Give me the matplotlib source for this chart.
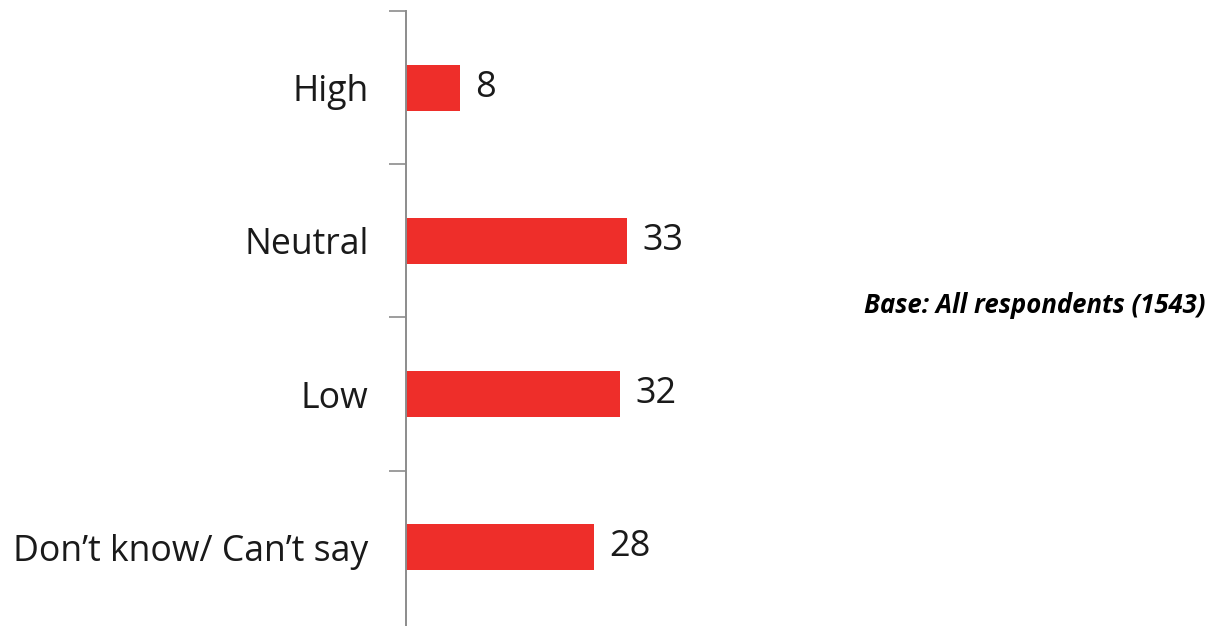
import matplotlib
matplotlib.use("Agg")
import matplotlib.pyplot as plt
import numpy as np

categories = ["High", "Neutral", "Low", "Don\u2019t know/ Can\u2019t say"]
values = [8, 33, 32, 28]
note = "Base: All respondents (1543)"

W, H = 1213, 626
fig = plt.figure(figsize=(W / 100, H / 100), dpi=100)
ax = fig.add_axes([406 / W, 0, 1 - 406 / W, (626 - 11) / H])

y = np.arange(len(categories))
ax.barh(y, values, height=0.30, color="#EE2E2A", zorder=2)
# bottom limit slightly past the last band so the axis line runs to the edge
ax.set_ylim(len(categories) - 0.5 + 2 / 153, -0.5)
ax.set_xlim(0, (W - 406) / 6.7)

ax.set_yticks(y)
ax.set_yticklabels(categories, fontsize=25.7, family="Open Sans", color="#1a1a1a")
ax.tick_params(axis="y", which="major", length=0, pad=27)
ax.set_yticks(np.arange(-0.5, len(categories) - 1, 1.0), minor=True)
ax.tick_params(axis="y", which="minor", length=12, width=1.2, color="#8c8c8c")
ax.set_xticks([])

for s in ["top", "right", "bottom"]:
    ax.spines[s].set_visible(False)
ax.spines["left"].set_color("#8c8c8c")
ax.spines["left"].set_linewidth(1.4)

for yi, v in zip(y, values):
    ax.text(v + 2.3, yi, str(v), va="center", ha="left", fontsize=26,
            family="Open Sans", color="#1a1a1a")

fig.text(1205 / W, 1 - 305 / H, note, ha="right", va="center", fontsize=18.5,
         family="Open Sans", fontweight="bold", fontstyle="italic", color="#000000")

fig.savefig("out.png", dpi=100)
